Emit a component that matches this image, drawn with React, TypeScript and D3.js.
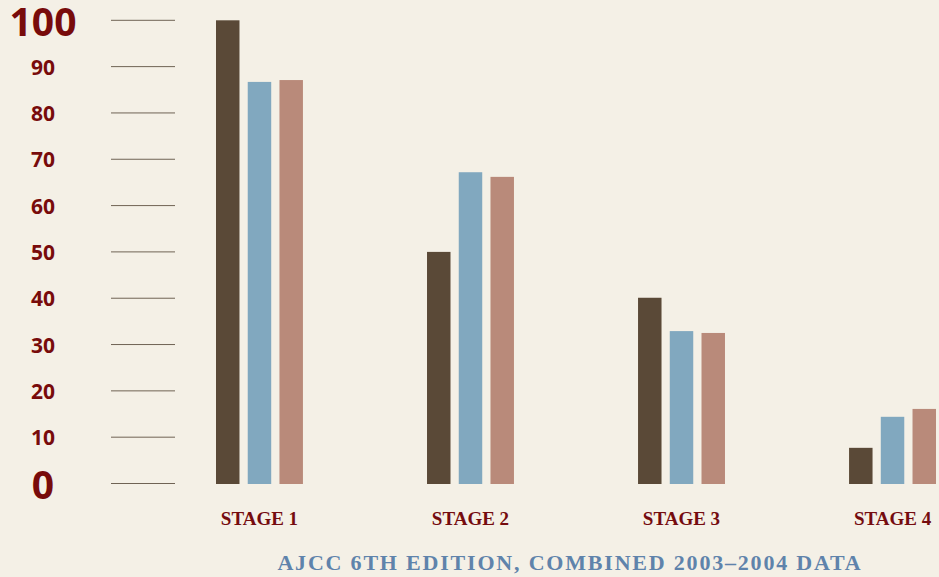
import React from "react";
import * as d3 from "d3";

const stages = ["STAGE 1", "STAGE 2", "STAGE 3", "STAGE 4"];
const seriesKeys = ["a", "b", "c"];
const seriesA = [100, 50, 40.1, 7.7];
const seriesB = [86.7, 67.2, 32.9, 14.4];
const seriesC = [87.1, 66.2, 32.5, 16.1];
const yTicks = [0, 10, 20, 30, 40, 50, 60, 70, 80, 90, 100];
const footer = "AJCC 6TH EDITION, COMBINED 2003\u20132004 DATA";

const colors = ["#5a4937", "#81a8bf", "#b98a7a"];
const W = 939;
const H = 577;

export default function App() {
  const y = d3.scaleLinear().domain([0, 100]).range([483.5, 20.3]);
  const x0 = d3.scaleBand<string>().domain(stages).range([216, 936]).paddingInner(0.588).paddingOuter(0);
  const x1 = d3.scaleBand<string>().domain(seriesKeys).range([0, x0.bandwidth()]).paddingInner(0.26).paddingOuter(0);
  const series = [seriesA, seriesB, seriesC];

  return (
    <svg width={W} height={H} style={{ position: "absolute", left: 0, top: 0, background: "#f4f0e6" }}>
      <rect width={W} height={H} fill="#f4f0e6" />
      {yTicks.map((t) => {
        const big = t === 0 || t === 100;
        return (
          <g key={t}>
            <line x1={111} x2={175} y1={y(t)} y2={y(t)} stroke="#6f6354" strokeWidth={1} />
            <text
              x={43}
              y={y(t) + (big ? 1.5 : 0.5)}
              dy="0.36em"
              textAnchor="middle"
              fill="#780b0b"
              fontFamily="'Open Sans', sans-serif"
              fontWeight={700}
              fontSize={big ? 39 : 21}
            >
              {t}
            </text>
          </g>
        );
      })}
      {stages.map((s, i) => (
        <g key={s} transform={`translate(${x0(s)},0)`}>
          {seriesKeys.map((k, j) => {
            const v = series[j][i];
            return (
              <rect
                key={k}
                x={x1(k)}
                y={y(v)}
                width={x1.bandwidth()}
                height={484 - y(v)}
                fill={colors[j]}
              />
            );
          })}
          <text
            x={x0.bandwidth() / 2}
            y={525}
            textAnchor="middle"
            fill="#750c0f"
            fontFamily="'Liberation Serif', serif"
            fontWeight={700}
            fontSize={19}
          >
            {s}
          </text>
        </g>
      ))}
      <text
        x={570}
        y={570}
        textAnchor="middle"
        fill="#5f83ab"
        fontFamily="'Liberation Serif', serif"
        fontWeight={700}
        fontSize={22}
        letterSpacing={1.8}
      >
        {footer}
      </text>
    </svg>
  );
}
